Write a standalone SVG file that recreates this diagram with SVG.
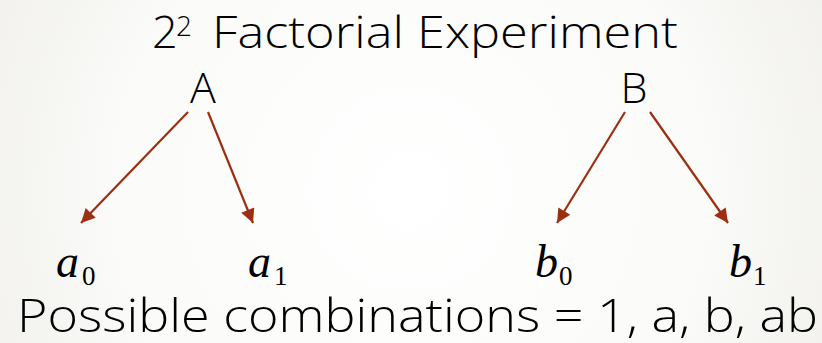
<svg xmlns="http://www.w3.org/2000/svg" width="822" height="343" viewBox="0 0 822 343">
  <defs>
    <radialGradient id="bg" cx="410" cy="190" r="520" gradientUnits="userSpaceOnUse">
      <stop offset="0" stop-color="#ffffff"/>
      <stop offset="0.55" stop-color="#fbfbf9"/>
      <stop offset="1" stop-color="#eeede9"/>
    </radialGradient>
    <marker id="ah" viewBox="0 0 10 10" refX="10" refY="5" markerUnits="userSpaceOnUse" markerWidth="17" markerHeight="14" orient="auto">
      <path d="M0,0 L10,5 L0,10 z" fill="#9c2f12"/>
    </marker>
  </defs>
  <style>
    .t { font-family: "Open Sans", "Liberation Sans", Arial, sans-serif; font-weight: 300; fill: #000; }
    .m { font-family: "Liberation Serif", "Times New Roman", serif; fill: #000; }
    .m .v { font-style: italic; }
    .c line { stroke: #9c2f12; stroke-width: 2.2; marker-end: url(#ah); }
  </style>
  <rect width="822" height="343" fill="url(#bg)"/>
  <g id="title">
    <text class="t" font-size="45" y="48"><tspan x="152">2</tspan><tspan x="176" y="36" font-size="28">2</tspan><tspan x="212" y="48" textLength="466" lengthAdjust="spacingAndGlyphs">Factorial Experiment</tspan></text>
  </g>
  <g id="nodeA"><text class="t" font-size="43" x="203" y="103" text-anchor="middle">A</text></g>
  <g id="nodeB"><text class="t" font-size="43" x="634" y="103" text-anchor="middle">B</text></g>
  <g id="a0"><text class="m" font-size="46" y="277"><tspan class="v" x="56">a</tspan><tspan x="82" y="285" font-size="27">0</tspan></text></g>
  <g id="a1"><text class="m" font-size="46" y="277"><tspan class="v" x="248">a</tspan><tspan x="274" y="285" font-size="27">1</tspan></text></g>
  <g id="b0"><text class="m" font-size="46" y="277"><tspan class="v" x="535">b</tspan><tspan x="559" y="285" font-size="27">0</tspan></text></g>
  <g id="b1"><text class="m" font-size="46" y="277"><tspan class="v" x="729">b</tspan><tspan x="753" y="285" font-size="27">1</tspan></text></g>
  <g id="footer"><text class="t" font-size="46" x="17" y="332" textLength="801" lengthAdjust="spacingAndGlyphs">Possible combinations = 1, a, b, ab</text></g>
  <g id="connectors" class="c">
    <line x1="188" y1="112" x2="81" y2="223"/>
    <line x1="208" y1="112" x2="253" y2="223"/>
    <line x1="625" y1="112" x2="557" y2="223"/>
    <line x1="650" y1="112" x2="728" y2="223"/>
  </g>
</svg>
